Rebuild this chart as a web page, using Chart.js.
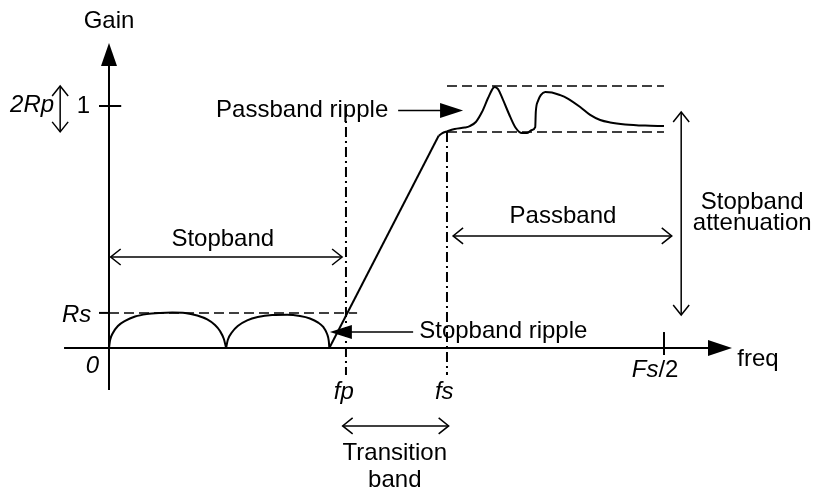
<!DOCTYPE html>
<html>
<head>
<meta charset="utf-8">
<script src="https://cdn.jsdelivr.net/npm/chart.js@4/dist/chart.umd.min.js"></script>
<style>
  html,body{margin:0;padding:0;background:#fff;}
  #wrap{width:814px;height:492px;}
</style>
</head>
<body>
<div id="wrap"><canvas id="c" width="814" height="492"></canvas></div>
<script>
// ---------- data (normalised frequency: Fs/2 = 1, gain: passband = 1) ----------
const edgeLabels = ['fp', 'fs', 'Fs/2'];
const edgeFreqs  = [0.427, 0.609, 1.0];
const levelLabels = ['0', 'Rs', '1'];
const levelGains  = [0, 0.145, 1];
const rippleLimits = [0.893, 1.083];          // 1 - Rp , 1 + Rp

// stopband ripple lobes
const lobe1Freq = [0.000,0.002,0.007,0.016,0.029,0.047,0.068,0.092,0.114,0.137,0.159,0.177,0.191,0.200,0.207,0.211];
const lobe1Gain = [0.000,0.033,0.062,0.091,0.112,0.130,0.140,0.145,0.147,0.145,0.134,0.118,0.095,0.070,0.037,0.000];
const lobe2Freq = [0.211,0.214,0.222,0.232,0.249,0.268,0.294,0.321,0.344,0.362,0.377,0.386,0.393,0.396,0.397];
const lobe2Gain = [0.000,0.033,0.066,0.091,0.114,0.128,0.136,0.137,0.132,0.122,0.105,0.087,0.058,0.029,0.000];

// transition band (straight) + passband response
const transFreq = [0.397, 0.594];
const transGain = [0.000, 0.877];
const respFreq = [0.594,0.600,0.609,0.623,0.641,0.650,0.661,0.672,0.683,0.692,0.695,0.701,0.710,0.723,0.733,0.744,0.753,0.762,0.768,0.769,0.773,0.778,0.786,0.798,0.813,0.825,0.849,0.867,0.885,0.903,0.930,0.966,1.000];
const respGain = [0.877,0.887,0.895,0.905,0.911,0.917,0.934,0.975,1.033,1.074,1.079,1.070,1.025,0.955,0.909,0.888,0.888,0.901,0.913,0.975,1.021,1.045,1.058,1.056,1.045,1.033,0.996,0.963,0.942,0.932,0.924,0.919,0.917];

const toPts = (xs, ys) => xs.map((v, i) => ({x: v, y: ys[i]}));

const FONT = '"Liberation Sans", Arial, Helvetica, sans-serif';
const FS = 24;

const [fp, fs, nyq] = edgeFreqs;
const [zeroG, Rs, unity] = levelGains;
const [passLo, passHi] = rippleLimits;
const lowEnd = -0.112;   // lower end of the band-edge guide lines

const datasets = [
  {data: toPts(lobe1Freq, lobe1Gain), borderWidth: 2, cubicInterpolationMode: 'monotone'},
  {data: toPts(lobe2Freq, lobe2Gain), borderWidth: 2, cubicInterpolationMode: 'monotone'},
  {data: toPts(transFreq, transGain), borderWidth: 2},
  {data: toPts(respFreq, respGain),   borderWidth: 2, cubicInterpolationMode: 'monotone'},
  // Rs level
  {data: [{x: 0, y: Rs}, {x: 0.447, y: Rs}], borderWidth: 1.5, borderDash: [10, 5]},
  // passband ripple limits
  {data: [{x: fs, y: passHi}, {x: nyq, y: passHi}], borderWidth: 1.5, borderDash: [10, 5]},
  {data: [{x: fs, y: passLo}, {x: nyq, y: passLo}], borderWidth: 1.5, borderDash: [10, 5]},
  // band edge guides (dash-dot)
  {data: [{x: fp, y: 0.996}, {x: fp, y: lowEnd}], borderWidth: 2, borderDash: [10, 4, 2, 4]},
  {data: [{x: fs, y: passLo}, {x: fs, y: lowEnd}], borderWidth: 2, borderDash: [10, 4, 2, 4]}
].map(d => Object.assign({showLine: true, pointRadius: 0, borderColor: '#000', fill: false, tension: 0}, d));

const annot = {
  id: 'annot',
  afterDatasetsDraw(chart) {
    const {ctx, scales: {x, y}} = chart;
    const X = v => x.getPixelForValue(v), Y = v => y.getPixelForValue(v);
    ctx.save();
    ctx.strokeStyle = '#000'; ctx.fillStyle = '#000';
    ctx.lineCap = 'butt';

    const line = (x1, y1, x2, y2, w) => {
      ctx.lineWidth = w; ctx.setLineDash([]);
      ctx.beginPath(); ctx.moveTo(x1, y1); ctx.lineTo(x2, y2); ctx.stroke();
    };
    const head = (tx, ty, fx, fy, len, half, filled) => {
      const dx = tx - fx, dy = ty - fy, L = Math.hypot(dx, dy);
      const ux = dx / L, uy = dy / L, nx = -uy, ny = ux;
      const bx = tx - ux * len, by = ty - uy * len;
      ctx.beginPath();
      ctx.moveTo(bx + nx * half, by + ny * half);
      ctx.lineTo(tx, ty);
      ctx.lineTo(bx - nx * half, by - ny * half);
      if (filled) { ctx.closePath(); ctx.fill(); }
      else { ctx.lineWidth = 1.5; ctx.stroke(); }
    };
    const filledArrow = (x1, y1, x2, y2, w, len, half) => {
      const L = Math.hypot(x2 - x1, y2 - y1);
      const ex = x2 - (x2 - x1) / L * (len - 2), ey = y2 - (y2 - y1) / L * (len - 2);
      line(x1, y1, ex, ey, w);
      head(x2, y2, x1, y1, len, half, true);
    };
    const doubleArrow = (x1, y1, x2, y2) => {
      line(x1, y1, x2, y2, 1.5);
      head(x1, y1, x2, y2, 10, 8, false);
      head(x2, y2, x1, y1, 10, 8, false);
    };
    const text = (s, px, py, align, italic) => {
      ctx.font = (italic ? 'italic ' : '') + FS + 'px ' + FONT;
      ctx.textAlign = align; ctx.textBaseline = 'alphabetic';
      ctx.fillText(s, px, py);
    };

    // axes
    filledArrow(X(-0.081), Y(0), X(1.1225), Y(0), 2, 24, 8);
    filledArrow(X(0), Y(-0.1736), X(0), Y(1.260), 2, 23, 8);
    // ticks
    line(X(-0.018), Y(unity), X(0.022), Y(unity), 2);
    line(X(-0.018), Y(Rs), X(0), Y(Rs), 2);
    line(X(nyq), Y(0.066), X(nyq), Y(-0.029), 2);

    // axis texts
    text('Gain', X(0), Y(1.322), 'center', false);
    text('freq', X(1.132), Y(-0.074), 'left', false);
    text(levelLabels[2], X(-0.034), Y(0.971), 'right', false);
    text(levelLabels[1], X(-0.032), Y(0.107), 'right', true);
    text(levelLabels[0], X(-0.018), Y(-0.103), 'right', true);
    text(edgeLabels[0], X(fp - 0.004), Y(-0.211), 'center', true);
    text(edgeLabels[1], X(fs - 0.005), Y(-0.211), 'center', true);
    // Fs/2 : italic "Fs" + upright "/2"
    {
      ctx.font = 'italic ' + FS + 'px ' + FONT; const w1 = ctx.measureText('Fs').width;
      ctx.font = FS + 'px ' + FONT; const w2 = ctx.measureText('/2').width;
      const left = X(nyq - 0.016) - (w1 + w2) / 2;
      text('Fs', left, Y(-0.120), 'left', true);
      text('/2', left + w1, Y(-0.120), 'left', false);
    }

    // 2Rp
    text('2Rp', X(-0.099), Y(0.975), 'right', true);
    doubleArrow(X(-0.088), Y(passHi), X(-0.088), Y(passLo));

    // Stopband
    text('Stopband', X(0.205), Y(0.421), 'center', false);
    doubleArrow(X(0.003), Y(0.376), X(fp - 0.007), Y(0.376));

    // Passband
    text('Passband', X(0.818), Y(0.517), 'center', false);
    doubleArrow(X(0.620), Y(0.463), X(1.014), Y(0.463));

    // Stopband attenuation
    text('Stopband', X(1.159), Y(0.574), 'center', false);
    text('attenuation', X(1.159), Y(0.488), 'center', false);
    doubleArrow(X(1.031), Y(0.975), X(1.031), Y(0.136));

    // Passband ripple
    text('Passband ripple', X(0.193), Y(0.955), 'left', false);
    filledArrow(X(0.521), Y(0.981), X(0.638), Y(0.981), 1.5, 23, 7.5);

    // Stopband ripple
    text('Stopband ripple', X(0.559), Y(0.041), 'left', false);
    filledArrow(X(0.548), Y(0.066), X(0.398), Y(0.066), 1.5, 22, 7);

    // Transition band
    doubleArrow(X(fp - 0.006), Y(-0.322), X(fs + 0.003), Y(-0.322));
    text('Transition', X(0.515), Y(-0.463), 'center', false);
    text('band', X(0.515), Y(-0.574), 'center', false);

    ctx.restore();
  }
};

new Chart(document.getElementById('c'), {
  type: 'scatter',
  data: {datasets},
  options: {
    responsive: false,
    animation: false,
    devicePixelRatio: 1,
    events: [],
    layout: {padding: 0},
    plugins: {legend: {display: false}, tooltip: {enabled: false}},
    scales: {
      x: {type: 'linear', display: false, min: -0.1964, max: 1.2703},
      y: {type: 'linear', display: false, min: -0.5950, max: 1.4380}
    }
  },
  plugins: [annot]
});
</script>
</body>
</html>
